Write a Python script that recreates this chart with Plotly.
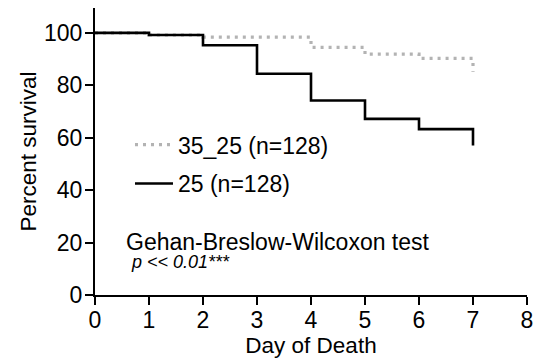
import plotly.graph_objects as go

days = [0, 1, 2, 3, 4, 5, 6, 7]
surv_35_25 = [100, 99.2, 98.4, 98.4, 94.5, 91.9, 90.3, 85.2]
surv_25 = [100, 99.2, 95.3, 84.4, 74.2, 67.2, 63.3, 57.0]
names = ["35_25 (n=128)", "25 (n=128)"]
x_ticks = [0, 1, 2, 3, 4, 5, 6, 7, 8]
y_ticks = [0, 20, 40, 60, 80, 100]

FONT = "Liberation Sans, Arial, sans-serif"

fig = go.Figure()
fig.add_trace(go.Scatter(
    x=days, y=surv_35_25, name=names[0], mode="lines", line_shape="hv",
    line=dict(color="#b3b3b3", width=3.2, dash="3px,5px"), legendgroup="a"))
fig.add_trace(go.Scatter(
    x=days, y=surv_25, name=names[1], mode="lines", line_shape="hv",
    line=dict(color="#000000", width=2.6), legendgroup="b"))

axis_common = dict(
    showline=True, linecolor="black", linewidth=2.2, ticks="outside",
    ticklen=8, tickwidth=2.2, tickcolor="black", showgrid=False, zeroline=False,
    automargin=False,
    tickfont=dict(family=FONT, size=23, color="black"))

fig.update_layout(
    width=536, height=358, autosize=False,
    margin=dict(l=95, r=9, t=8, b=63, pad=0),
    plot_bgcolor="white", paper_bgcolor="white",
    font=dict(family=FONT, size=23, color="black"),
    xaxis=dict(range=[0, 8], tickvals=x_ticks, ticklabelstandoff=-5,
               title=dict(text="Day of Death", standoff=2, font=dict(size=22.5)), **axis_common),
    yaxis=dict(range=[0, 109.5], tickvals=y_ticks, ticklabelstandoff=-2,
               title=dict(text="Percent survival", standoff=1, font=dict(size=22.5)), **axis_common),
    legend=dict(x=0.081, y=0.599, xanchor="left", yanchor="top", bgcolor="rgba(0,0,0,0)",
                font=dict(size=23), itemwidth=38, tracegroupgap=6),
    showlegend=True,
    annotations=[
        dict(x=0.53, y=20.3, xref="x", yref="y", text="Gehan-Breslow-Wilcoxon test",
             showarrow=False, xanchor="left", yanchor="middle",
             font=dict(family=FONT, size=23, color="black")),
        dict(x=0.63, y=12.6, xref="x", yref="y", text="<i>p << 0.01***</i>",
             showarrow=False, xanchor="left", yanchor="middle",
             font=dict(family=FONT, size=18, color="black")),
    ],
)

fig.write_html("out.html")
